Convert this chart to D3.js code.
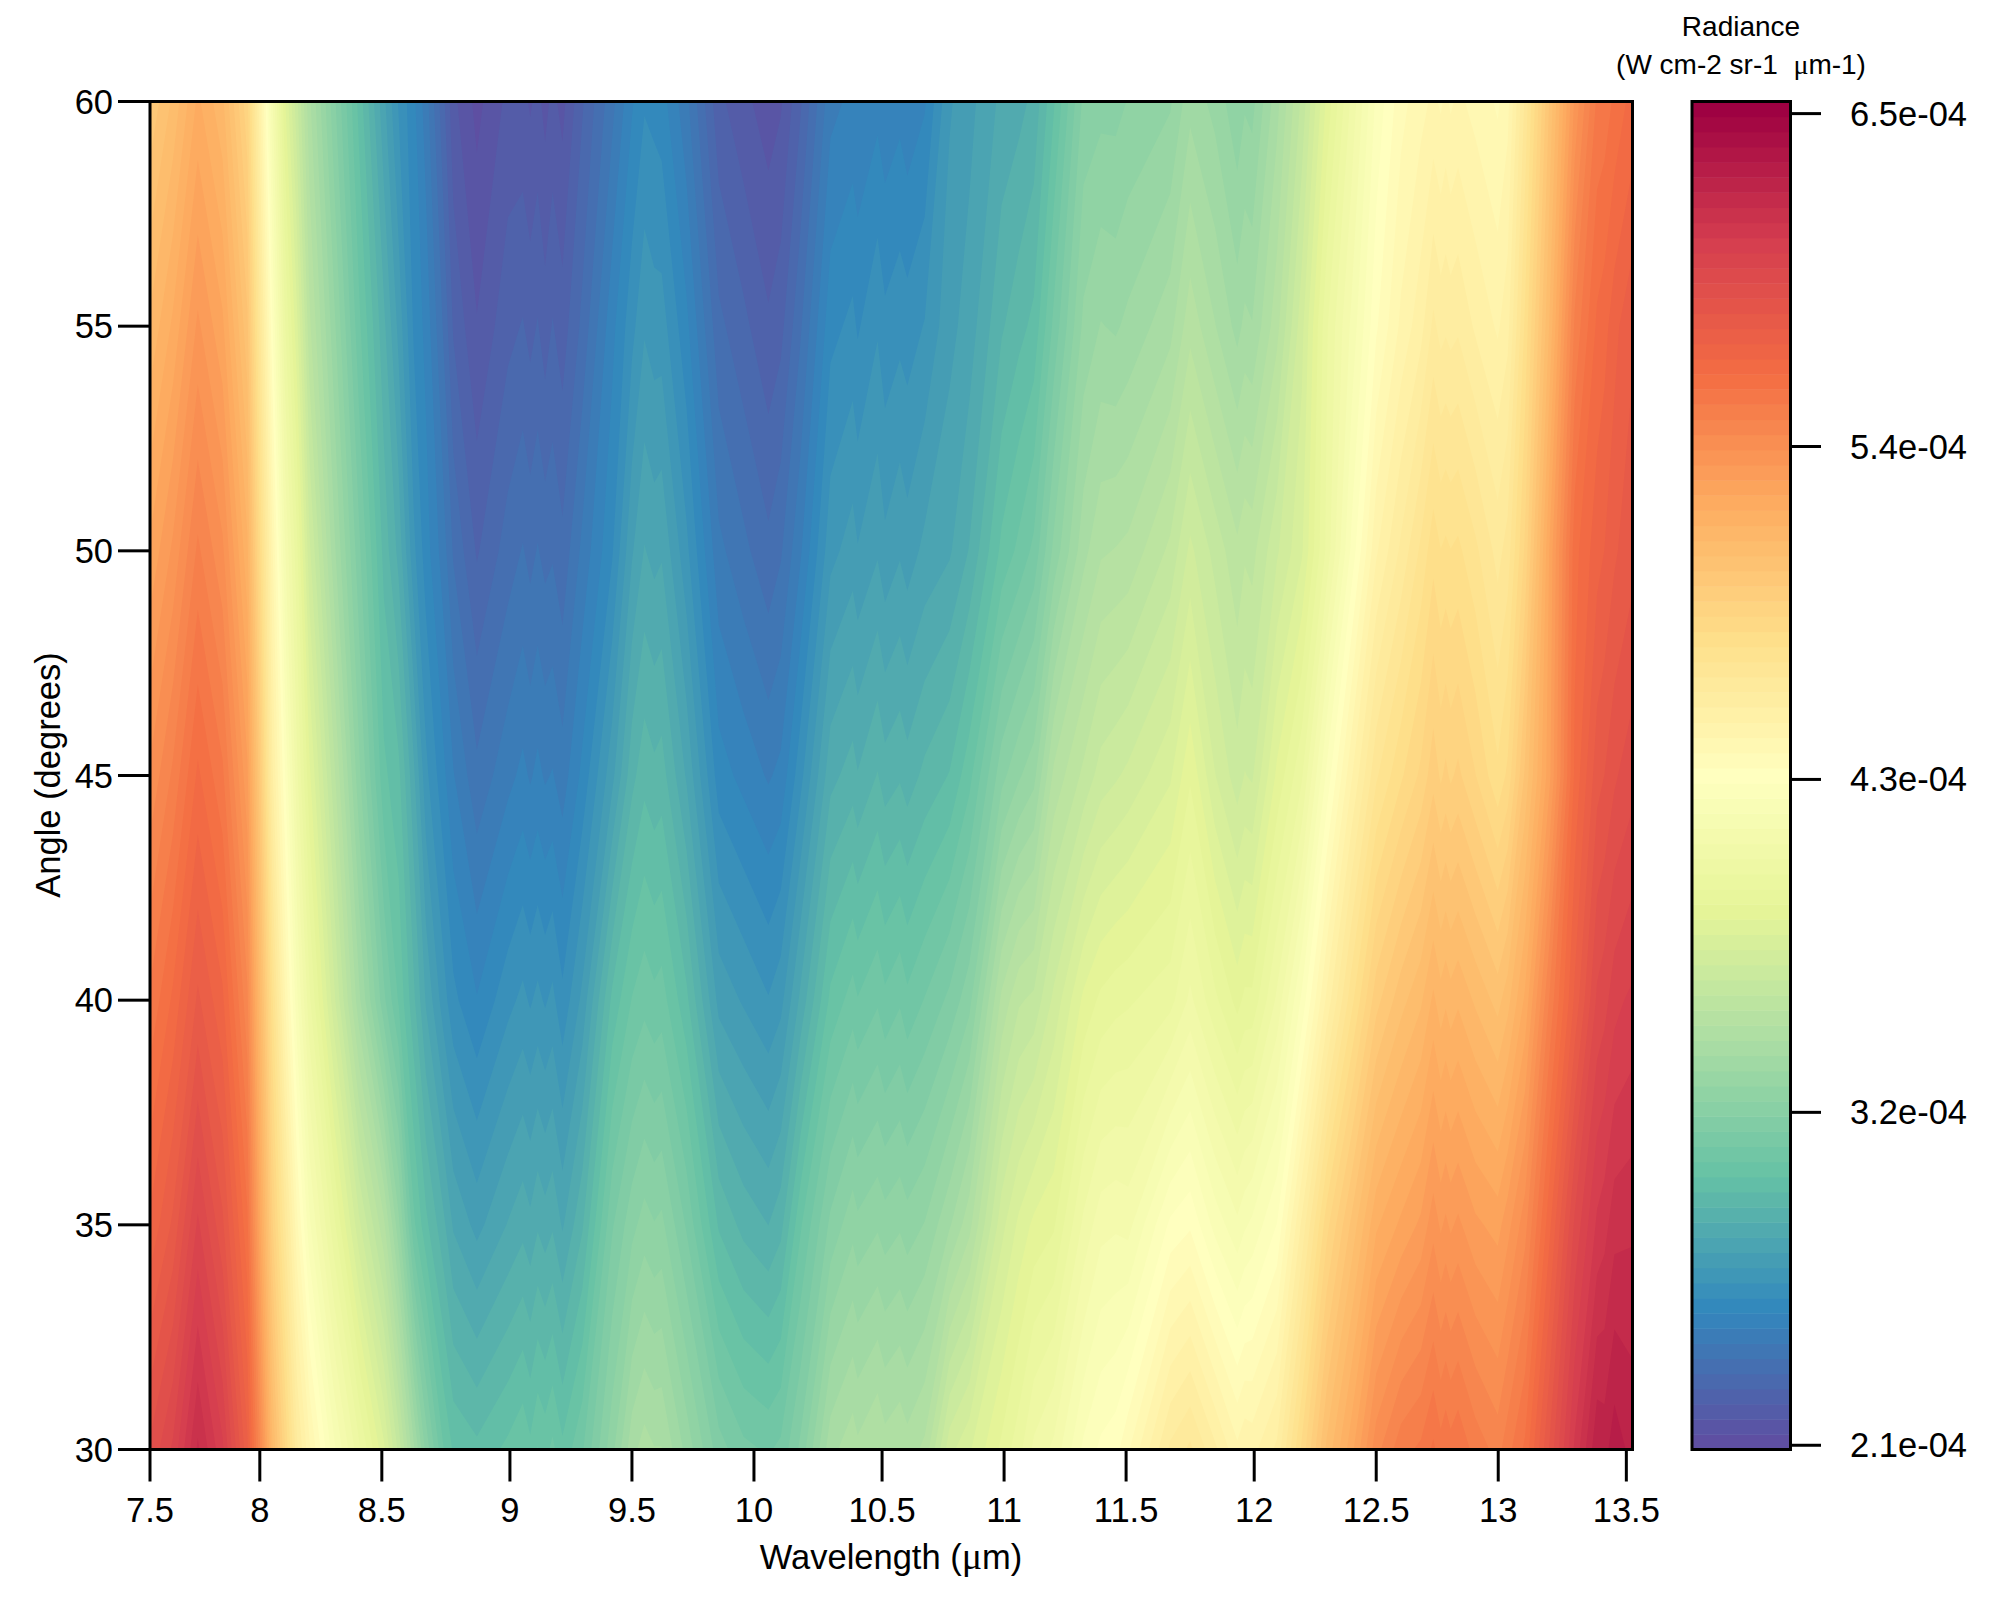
<!DOCTYPE html>
<html><head><meta charset="utf-8">
<style>html,body{margin:0;padding:0;background:#fff}svg{display:block}text{font-family:"Liberation Sans",Arial,sans-serif;fill:#000}.mu{font-family:"Liberation Serif",serif}</style>
<script src="https://cdn.jsdelivr.net/npm/d3@7"></script></head><body>
<script>
const wavelengths = [7.56,7.65,7.75,7.85,7.95,8.0,8.05,8.1,8.15,8.2,8.3,8.4,8.5,
  8.56,8.62,8.67,8.74,8.78,8.875,9.0,9.06,9.09,9.12,9.15,9.18,9.22,9.3,9.42,9.5,9.55,9.59,9.62,9.72,9.85,9.95,10.05,10.1,10.18,10.3,10.39,10.41,10.49,10.52,10.58,10.61,10.68,10.78,10.86,10.99,11.06,11.12,11.2,11.32,11.39,11.45,11.5,11.67,11.75,11.85,
  11.94,11.97,12.0,12.1,12.2,12.3,12.4,12.5,12.6,12.68,12.73,12.76,12.78,12.8,12.83,12.9,12.99,13.03,13.1,13.2,13.3,13.39,13.42,13.46,13.52];
const angles = [30,35,40,45,50,55,60];
// radiance in units of 1e-4 W cm-2 sr-1 um-1, one list per angle
const r30 = [5.9,6.0,6.2,6.05,5.75,5.45,5.1,4.85,4.6,4.45,4.2,4.0,3.8,
  3.62,3.4,3.22,3.04,2.98,2.95,3.0,3.03,3.0,3.04,3.02,3.05,3.0,3.08,3.27,3.42,3.46,3.44,3.44,3.32,3.16,3.1,3.08,3.1,3.2,3.42,3.47,3.45,3.49,3.46,3.48,3.46,3.5,3.72,3.78,3.9,3.97,4.05,4.1,4.25,4.3,4.32,4.38,4.6,4.65,4.55,
  4.45,4.48,4.47,4.55,4.8,5.05,5.22,5.42,5.52,5.55,5.6,5.56,5.58,5.56,5.58,5.52,5.47,5.52,5.6,5.85,6.1,6.28,6.27,6.32,6.28];
const r35 = [5.7,5.8,6.0,5.85,5.6,5.25,4.9,4.65,4.4,4.2,3.95,3.7,3.5,
  3.3,3.05,2.95,2.85,2.78,2.72,2.79,2.82,2.8,2.83,2.81,2.83,2.78,2.88,3.13,3.22,3.26,3.24,3.25,3.13,2.93,2.87,2.836,2.87,3.03,3.2,3.27,3.25,3.28,3.26,3.28,3.26,3.29,3.38,3.47,3.72,3.8,3.85,3.88,4.05,4.12,4.13,4.12,4.3,4.33,4.22,
  4.15,4.18,4.2,4.29,4.55,4.82,5.0,5.18,5.25,5.3,5.37,5.33,5.35,5.33,5.35,5.3,5.27,5.32,5.42,5.68,5.95,6.1,6.12,6.17,6.18];
const r40 = [5.55,5.65,5.8,5.7,5.45,5.1,4.75,4.45,4.2,4.0,3.7,3.4,3.15,
  3.03,2.9,2.78,2.66,2.6,2.54,2.62,2.65,2.63,2.65,2.63,2.65,2.6,2.7,2.95,3.04,3.07,3.05,3.06,2.95,2.72,2.68,2.64,2.67,2.8,3.0,3.06,3.04,3.08,3.05,3.08,3.05,3.09,3.15,3.22,3.5,3.58,3.6,3.7,3.85,3.9,3.92,3.93,3.97,4.05,3.95,
  3.87,3.9,3.9,4.05,4.25,4.5,4.72,4.92,5.02,5.08,5.15,5.11,5.13,5.11,5.13,5.08,5.02,5.07,5.2,5.5,5.75,5.95,5.97,6.02,6.05];
const r45 = [5.4,5.5,5.65,5.55,5.3,4.95,4.55,4.3,4.05,3.85,3.55,3.25,3.0,
  2.95,2.8,2.65,2.55,2.49,2.40,2.47,2.5,2.48,2.5,2.48,2.49,2.46,2.55,2.72,2.87,2.92,2.9,2.91,2.78,2.56,2.52,2.48,2.5,2.62,2.82,2.86,2.84,2.89,2.86,2.88,2.86,2.9,2.94,3.02,3.22,3.28,3.32,3.5,3.6,3.66,3.68,3.7,3.78,3.88,3.74,
  3.66,3.69,3.68,3.85,3.98,4.25,4.48,4.68,4.78,4.85,4.92,4.88,4.9,4.88,4.9,4.84,4.75,4.8,5.0,5.28,5.65,5.82,5.84,5.88,5.92];
const r50 = [5.25,5.35,5.5,5.4,5.15,4.8,4.45,4.15,3.95,3.7,3.4,3.15,2.92,
  2.82,2.65,2.56,2.46,2.38,2.28,2.36,2.39,2.37,2.39,2.37,2.38,2.35,2.45,2.58,2.73,2.79,2.77,2.78,2.65,2.45,2.4,2.35,2.38,2.48,2.67,2.71,2.69,2.73,2.7,2.73,2.71,2.75,2.78,2.84,3.0,3.05,3.1,3.25,3.42,3.48,3.49,3.5,3.6,3.7,3.62,
  3.55,3.58,3.57,3.68,3.78,4.0,4.25,4.48,4.6,4.7,4.77,4.74,4.75,4.74,4.75,4.7,4.62,4.66,4.85,5.25,5.62,5.72,5.74,5.78,5.82];
const r55 = [5.1,5.2,5.35,5.25,5.0,4.65,4.3,4.0,3.8,3.55,3.3,3.05,2.85,
  2.72,2.58,2.52,2.38,2.28,2.19,2.27,2.29,2.27,2.29,2.26,2.29,2.26,2.35,2.52,2.62,2.68,2.66,2.66,2.55,2.35,2.3,2.245,2.27,2.38,2.57,2.6,2.58,2.63,2.6,2.62,2.61,2.64,2.72,2.76,2.88,2.92,2.95,3.1,3.3,3.34,3.33,3.35,3.42,3.52,3.44,
  3.37,3.4,3.39,3.52,3.72,3.98,4.15,4.33,4.45,4.52,4.6,4.57,4.58,4.57,4.58,4.53,4.48,4.52,4.75,5.1,5.5,5.65,5.67,5.72,5.78];
const r60 = [4.95,5.05,5.2,5.1,4.85,4.5,4.15,3.85,3.65,3.45,3.2,2.97,2.75,
  2.63,2.55,2.46,2.3,2.2,2.12,2.2,2.2,2.18,2.2,2.17,2.2,2.17,2.28,2.42,2.53,2.58,2.57,2.56,2.45,2.25,2.2,2.16,2.18,2.28,2.47,2.5,2.49,2.52,2.5,2.52,2.5,2.53,2.68,2.72,2.8,2.82,2.85,2.98,3.2,3.22,3.22,3.24,3.28,3.37,3.32,
  3.25,3.28,3.27,3.42,3.6,3.85,4.05,4.25,4.37,4.42,4.45,4.43,4.45,4.43,4.45,4.42,4.38,4.42,4.65,5.0,5.35,5.55,5.56,5.6,5.65];
const radianceRows = [r30,r35,r40,r45,r50,r55,r60];

const spectral = ["#5e4fa2","#3288bd","#66c2a5","#abdda4","#e6f598","#ffffbf","#fee08b","#fdae61","#f46d43","#d53e4f","#9e0142"];
const xTickValues = [7.5,8,8.5,9,9.5,10,10.5,11,11.5,12,12.5,13,13.5];
const yTickValues = [30,35,40,45,50,55,60];
const legendTickValues = [2.1,3.2,4.3,5.4,6.5];
const legendTickLabels = ["2.1e-04","3.2e-04","4.3e-04","5.4e-04","6.5e-04"];

const zMin = 2.086, zMax = 6.54, bandCount = 89;
const xMin = 7.5574, xMax = 13.533, sampleStep = 0.02459;

const W = 2000, H = 1600;
const box = {l:150, r:1632.5, t:101.5, b:1449.5};
const leg = {l:1692, r:1790.5, t:101.5, b:1449.5};
const FS = 34.5;

const x = d3.scaleLinear().domain([xMin,xMax]).range([box.l,box.r]);
const y = d3.scaleLinear().domain([30,60]).range([box.b,box.t]);
const zY = d3.scaleLinear().domain([zMin,zMax]).range([leg.b,leg.t]);
const ramp = d3.piecewise(d3.interpolateRgb, spectral);
const levels = d3.range(bandCount).map(i => zMin + i*(zMax-zMin)/bandCount);
const bandColor = i => ramp(i/(bandCount-1));

// grid index -> data coordinate (columns are not evenly spaced)
const colToWl = d3.scaleLinear().domain(d3.range(wavelengths.length)).range(wavelengths).clamp(true);
const rowToAngle = d3.scaleLinear().domain(d3.range(angles.length)).range(angles).clamp(true);
const proj = d3.geoTransform({point(px,py){
  const w = px-0.5 <= 0 ? xMin : px-0.5 >= wavelengths.length-1 ? xMax : colToWl(px-0.5);
  this.stream.point(x(w), y(rowToAngle(py-0.5)));
}});
const path = d3.geoPath(proj);

const svg = d3.select("body").append("svg").attr("width",W).attr("height",H).attr("viewBox",`0 0 ${W} ${H}`);
svg.append("clipPath").attr("id","plot").append("rect").attr("x",box.l).attr("y",box.t).attr("width",box.r-box.l).attr("height",box.b-box.t);

const flat = radianceRows.flat();
const contours = d3.contours().size([wavelengths.length, angles.length]).thresholds(levels)(flat);
const gPlot = svg.append("g").attr("clip-path","url(#plot)");
gPlot.append("rect").attr("x",box.l).attr("y",box.t).attr("width",box.r-box.l).attr("height",box.b-box.t).attr("fill",bandColor(0));
gPlot.selectAll("path").data(contours).join("path")
  .attr("d",path).attr("fill",(d,i)=>bandColor(i));

// axes
const line = (x1,y1,x2,y2)=>svg.append("line").attr("x1",x1).attr("y1",y1).attr("x2",x2).attr("y2",y2).attr("stroke","#000").attr("stroke-width",3);
svg.append("rect").attr("x",box.l).attr("y",box.t).attr("width",box.r-box.l).attr("height",box.b-box.t).attr("fill","none").attr("stroke","#000").attr("stroke-width",3);

// ticks snap to the nearest sampled wavelength of the instrument grid
const snap = t => Math.max(xMin, xMin + Math.round((t-xMin)/sampleStep)*sampleStep);
xTickValues.forEach(t=>{
  const px = x(snap(t));
  line(px,box.b,px,box.b+32);
  svg.append("text").attr("x",px).attr("y",1522).attr("text-anchor","middle").attr("font-size",FS).text(t);
});
yTickValues.forEach(t=>{
  const py = y(t);
  line(box.l-32,py,box.l,py);
  svg.append("text").attr("x",113).attr("y",py+12).attr("text-anchor","end").attr("font-size",FS).text(t);
});

const xt = svg.append("text").attr("x",891).attr("y",1568.5).attr("text-anchor","middle").attr("font-size",FS);
xt.append("tspan").text("Wavelength (");
xt.append("tspan").attr("class","mu").attr("font-size",FS*1.1).text("μ");
xt.append("tspan").text("m)");
svg.append("text").attr("transform","translate(60,775) rotate(-90)").attr("text-anchor","middle").attr("font-size",FS).text("Angle (degrees)");

// colour key
svg.append("g").selectAll("rect").data(levels).join("rect")
  .attr("x",leg.l).attr("width",leg.r-leg.l)
  .attr("y",d=>zY(d+(zMax-zMin)/bandCount)).attr("height",(zY(zMin)-zY(zMin+(zMax-zMin)/bandCount))+0.5)
  .attr("fill",(d,i)=>bandColor(i));
svg.append("rect").attr("x",leg.l).attr("y",leg.t).attr("width",leg.r-leg.l).attr("height",leg.b-leg.t).attr("fill","none").attr("stroke","#000").attr("stroke-width",3);
legendTickValues.forEach((v,i)=>{
  const py = zY(v);
  line(leg.r,py,1821,py);
  svg.append("text").attr("x",1850).attr("y",py+12).attr("font-size",FS).text(legendTickLabels[i]);
});
svg.append("text").attr("x",1741).attr("y",36).attr("text-anchor","middle").attr("font-size",28).text("Radiance");
const lt = svg.append("text").attr("x",1741).attr("y",74).attr("text-anchor","middle").attr("font-size",28);
lt.append("tspan").text("(W cm-2 sr-1\u00a0\u00a0");
lt.append("tspan").attr("class","mu").text("μ");
lt.append("tspan").text("m-1)");
</script></body></html>
